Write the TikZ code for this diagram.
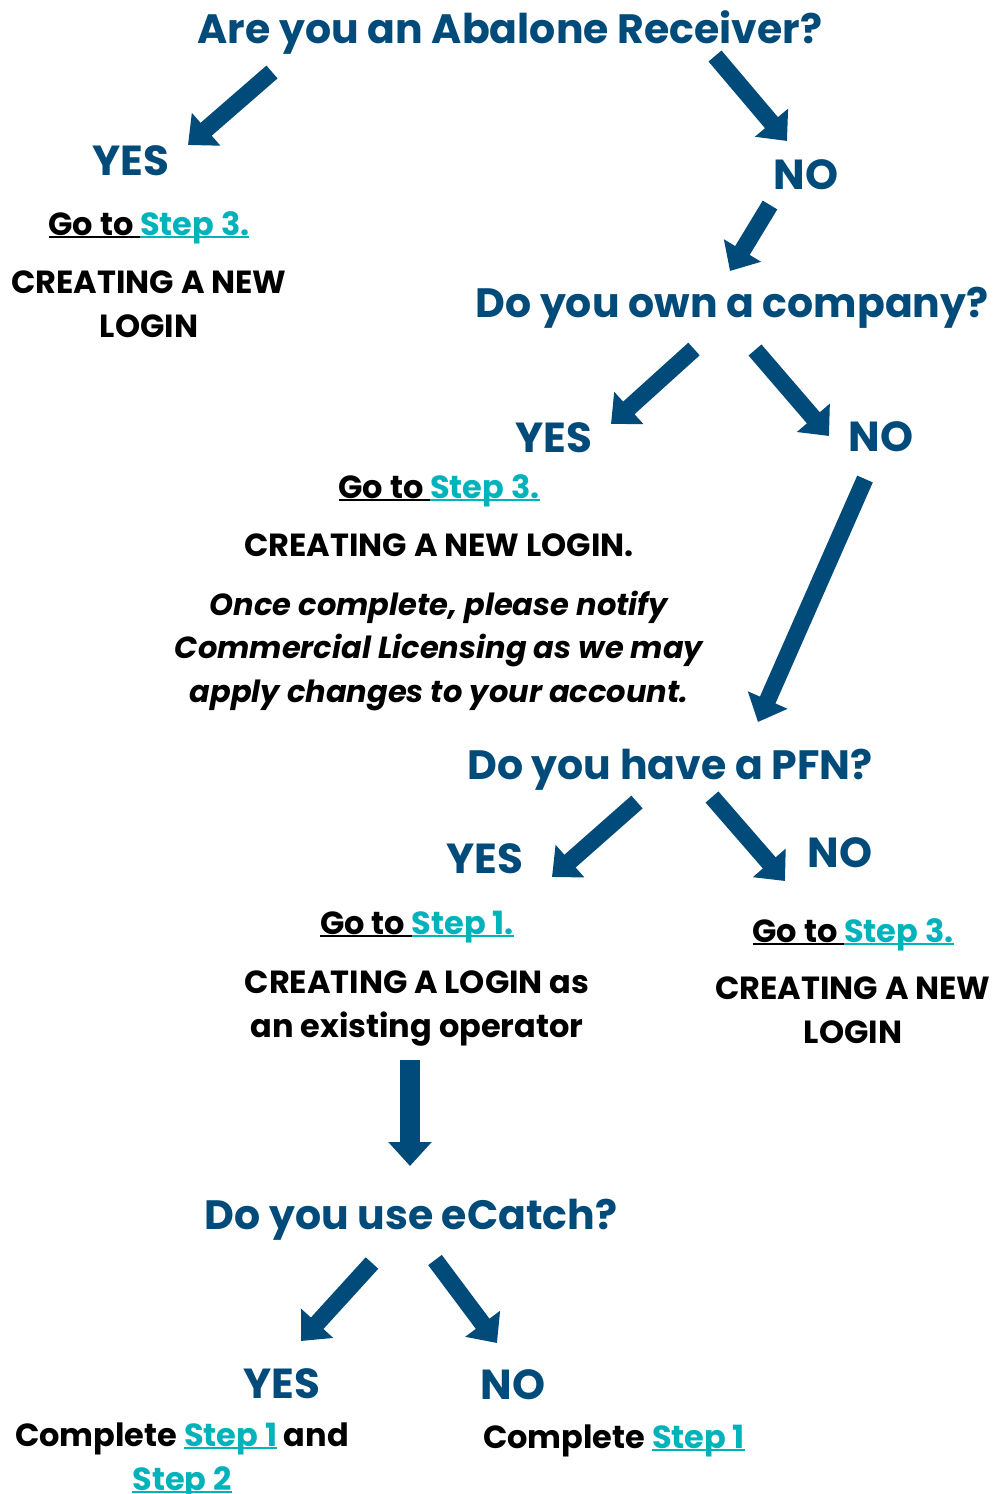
\documentclass[tikz,border=0pt]{standalone}
\usepackage{fontspec}
\setmainfont{Poppins}
\usetikzlibrary{arrows.meta}
\definecolor{navy}{RGB}{0,75,122}
\definecolor{linkteal}{RGB}{0,178,186}
% thick underline drawn in the current colour
\newsavebox{\ulbox}
\newcommand{\ulx}[1]{\sbox{\ulbox}{#1}\rlap{\rule[-3.2pt]{\wd\ulbox}{2.4pt}}\usebox{\ulbox}}
\newcommand{\lnk}[1]{{\color{linkteal}\ulx{#1}}}
\newcommand{\goto}[1]{\ulx{Go to\ }\lnk{#1}}
\tikzset{
  question/.style={font=\fontsize{41}{48}\selectfont\bfseries, text=navy, anchor=base, inner sep=0pt},
  answer/.style={font=\fontsize{42}{48}\selectfont\bfseries, text=navy, anchor=base, inner sep=0pt},
  body/.style={font=\fontsize{32}{44}\selectfont\bfseries, text=black, align=center, anchor=base, inner sep=0pt},
  note/.style={font=\fontsize{30.5}{43.5}\selectfont\bfseries\itshape, text=black, align=center, anchor=base, inner sep=0pt},
  bigarrow/.style={draw=navy, line width=17pt, -{Triangle[length=24pt,width=42pt]}},
}
\begin{document}
\begin{tikzpicture}[x=1pt,y=-1pt]
\useasboundingbox (0,0) rectangle (996,1494);

% first question (multi-line nodes sit on the baseline of their last line)
\node[question] (q1) at (510,43) {Are you an Abalone Receiver?};
\node[answer] (y1) at (131,175) {YES};
\node[body] (g1) at (149,235) {\goto{Step 3.}};
\node[body] (t1) at (149,337) {CREATING A NEW\\LOGIN};
\node[answer] (n1) at (806,189) {NO};

% second question
\node[question] (q2) at (732,317) {Do you own a company?};
\node[answer] (y2) at (554,452) {YES};
\node[answer] (n2) at (881,451) {NO};
\node[body] (g2) at (439,498) {\goto{Step 3.}};
\node[body] (t2) at (439,556) {CREATING A NEW LOGIN.};
\node[note] (m2) at (439,702) {Once complete, please notify\\Commercial Licensing as we may\\apply changes to your account.};

% third question
\node[question] (q3) at (670,779) {Do you have a PFN?};
\node[answer] (y3) at (485,873) {YES};
\node[answer] (n3) at (840,867) {NO};
\node[body] (g3) at (417,934) {\goto{Step 1.}};
\node[body] (t3) at (417,1037) {CREATING A LOGIN as\\an existing operator};
\node[body] (g4) at (853,942) {\goto{Step 3.}};
\node[body] (t4) at (853,1043) {CREATING A NEW\\LOGIN};

% fourth question
\node[question] (q4) at (411,1229) {Do you use eCatch?};
\node[answer] (y4) at (282,1398) {YES};
\node[answer] (n4) at (513,1399) {NO};
\node[body] (c1) at (182,1490) {Complete \lnk{Step 1} and\\\lnk{Step 2}};
\node[body] (c2) at (614,1448) {Complete \lnk{Step 1}};

% arrow end points
\coordinate (a1s) at (272,72);   \coordinate (a1e) at (188,145);
\coordinate (a2s) at (715,56);   \coordinate (a2e) at (787,141);
\coordinate (a3s) at (770,205);  \coordinate (a3e) at (730,271);
\coordinate (a4s) at (694,349);  \coordinate (a4e) at (611,424);
\coordinate (a5s) at (755,350);  \coordinate (a5e) at (829,436);
\coordinate (a6s) at (865,479);  \coordinate (a6e) at (758,722);
\coordinate (a7s) at (637,802);  \coordinate (a7e) at (552,877);
\coordinate (a8s) at (712,797);  \coordinate (a8e) at (785,881);
\coordinate (a9s) at (410,1060); \coordinate (a9e) at (410,1166);
\coordinate (a10s) at (372,1263); \coordinate (a10e) at (301,1341);
\coordinate (a11s) at (435,1260); \coordinate (a11e) at (497,1343);

\draw[bigarrow] (a1s) -- (a1e);
\draw[bigarrow] (a2s) -- (a2e);
\draw[bigarrow] (a3s) -- (a3e);
\draw[bigarrow] (a4s) -- (a4e);
\draw[bigarrow] (a5s) -- (a5e);
\draw[bigarrow] (a6s) -- (a6e);
\draw[bigarrow] (a7s) -- (a7e);
\draw[bigarrow] (a8s) -- (a8e);
\draw[bigarrow, line width=20pt] (a9s) -- (a9e);
\draw[bigarrow] (a10s) -- (a10e);
\draw[bigarrow] (a11s) -- (a11e);
\end{tikzpicture}
\end{document}
